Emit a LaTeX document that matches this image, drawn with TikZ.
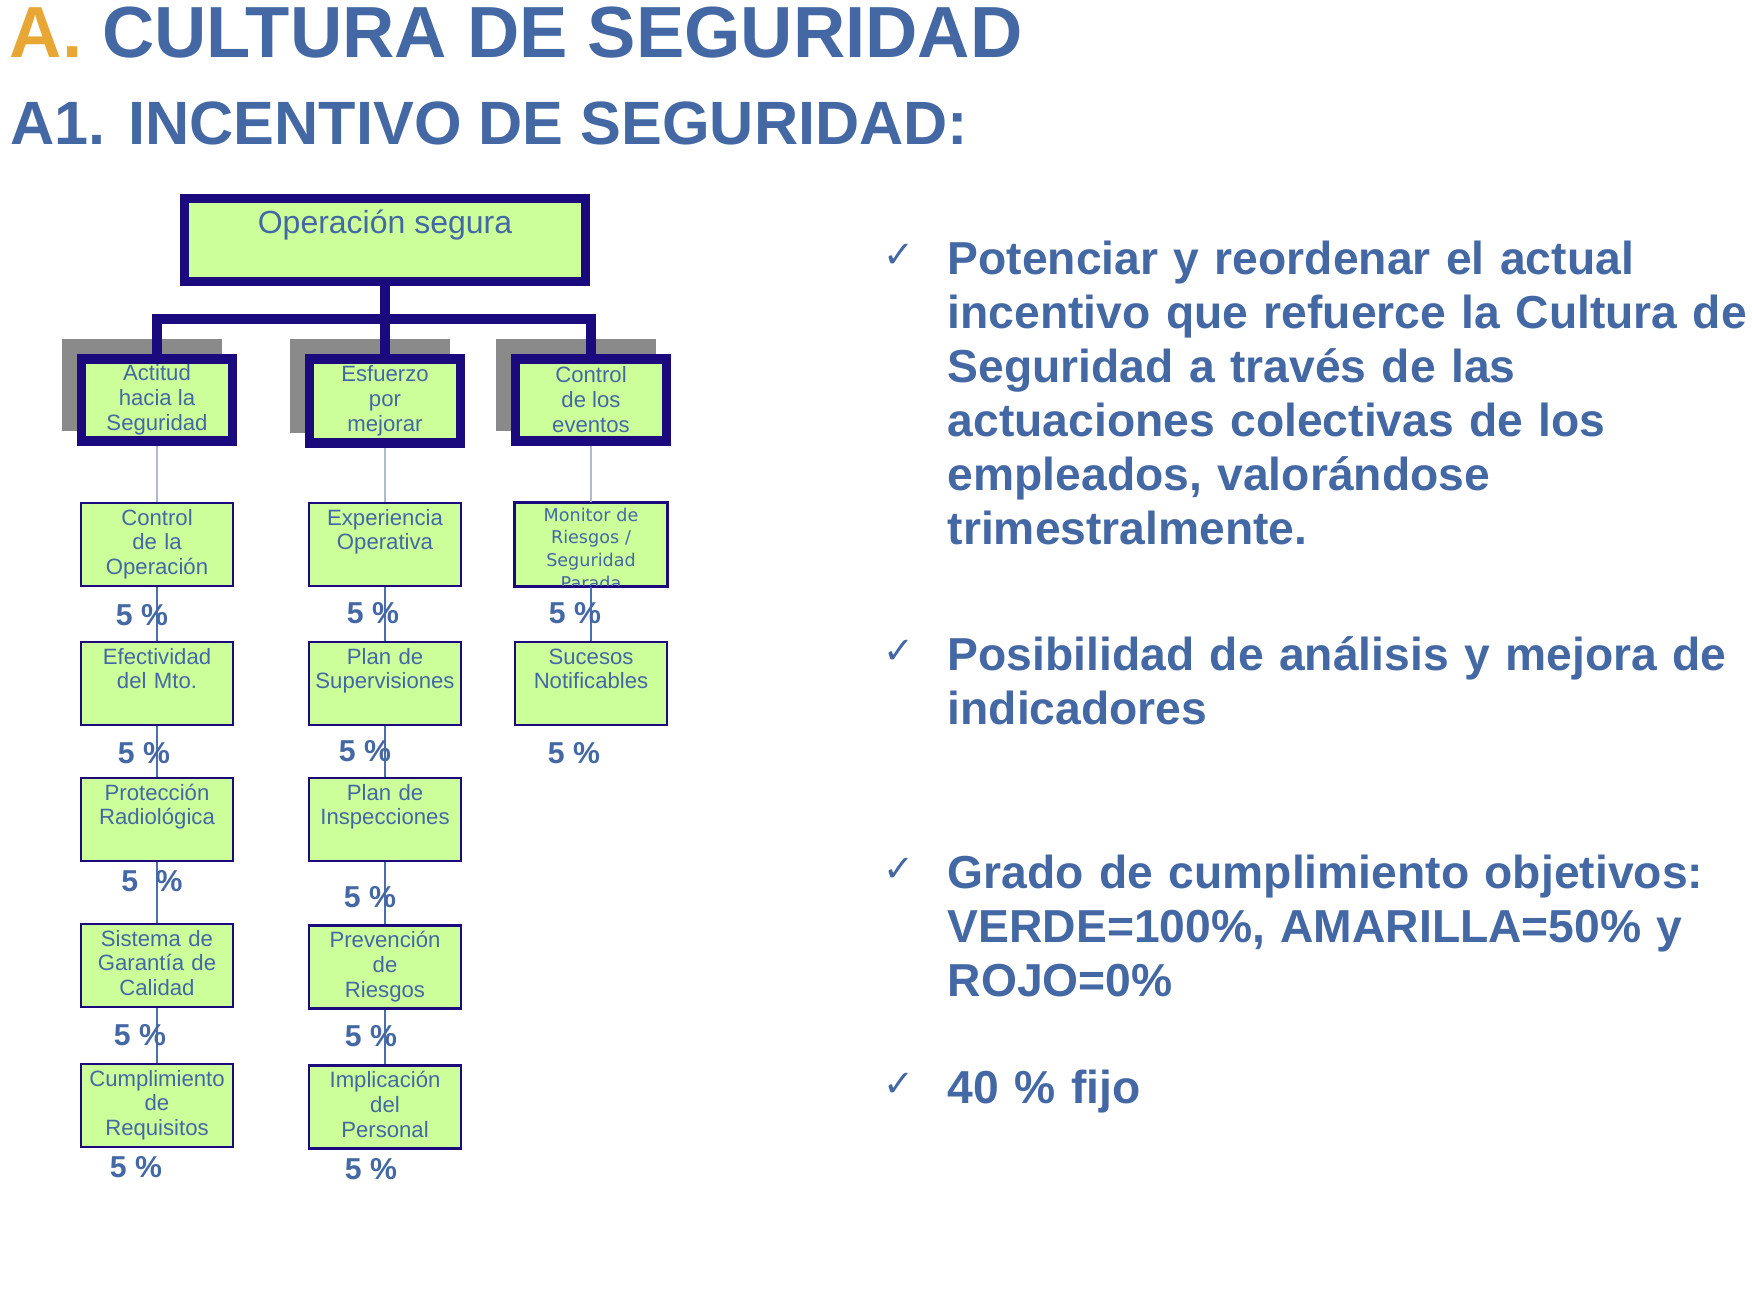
\documentclass[tikz,border=0pt]{standalone}
\usepackage{fontspec}
\setmainfont{Liberation Sans}
\newfontfamily\dejavu{DejaVu Sans}
\usetikzlibrary{backgrounds}
\definecolor{titleblue}{HTML}{4468A4}
\definecolor{titleorange}{HTML}{E8A735}
\definecolor{boxnavy}{HTML}{1A0A7E}
\definecolor{boxgreen}{HTML}{CCFF99}
\definecolor{shadowgray}{HTML}{8A8A8A}
\definecolor{linkgray}{HTML}{B0B9CE}
\definecolor{linkblue}{HTML}{4A6FAE}

\begin{document}
\begin{tikzpicture}[x=0.01cm,y=-0.01cm,
        heavy/.style={draw=boxnavy,line width=2.6pt},
        topbox/.style={heavy,fill=boxgreen,inner sep=0pt,minimum width=4cm,
                       text height=0.35cm,text depth=0.48cm,text=titleblue,
                       font=\fontsize{9.1}{11}\selectfont},
        groupbox/.style={draw=boxnavy,line width=2.8pt,fill=boxgreen,inner sep=0pt,
                         minimum width=1.51cm,minimum height=0.82cm,align=center,
                         text=titleblue,font=\fontsize{6.3}{7.1}\selectfont},
        cell/.style={draw=boxnavy,line width=0.6pt,fill=boxgreen,inner sep=0pt,
                     text width=1.52cm,align=center,text height=0.22cm,text depth=0.61cm,
                     text=titleblue,font=\fontsize{6.3}{7.1}\selectfont},
        pct/.style={inner sep=0pt,text=titleblue,font=\bfseries\fontsize{8.6}{10}\selectfont},
        bullet/.style={anchor=base west,inner sep=0pt,text width=8.3cm,align=left,
                       text=titleblue,font=\bfseries\fontsize{13.15}{15.4}\selectfont},
        tick/.style={anchor=base west,inner sep=0pt,text=titleblue,
                     font=\dejavu\fontsize{10.5}{12}\selectfont},
        lightlink/.style={draw=linkgray,line width=0.7pt},
        thinlink/.style={draw=linkblue,line width=0.5pt}]
      \useasboundingbox (0,0) rectangle (1752,1296);

      % titles
      \node[anchor=base west,inner sep=0pt,text=titleblue,
            font=\bfseries\fontsize{20.6}{24}\selectfont] (title) at (9,57)
            {\textcolor{titleorange}{A.} CULTURA DE SEGURIDAD};
      \node[anchor=base west,inner sep=0pt,text=titleblue,
            font=\bfseries\fontsize{17.4}{21}\selectfont] (subtitle) at (10,144)
            {A1. INCENTIVO DE SEGURIDAD:};

      % tree
      \node[topbox] (op) at (385,240) {Operación segura};
      \node[groupbox] (att) at (157,400) {Actitud\\hacia la\\Seguridad};
      \node[groupbox,minimum height=0.84cm] (esf) at (385,401) {Esfuerzo\\por\\mejorar};
      \node[groupbox] (ctl) at (591,400) {Control\\de los\\eventos};
      \begin{scope}[on background layer]
        \fill[shadowgray] ([shift={(-15,-15)}]att.south west) rectangle ([shift={(-15,-15)}]att.north east);
        \fill[shadowgray] ([shift={(-15,-15)}]esf.south west) rectangle ([shift={(-15,-15)}]esf.north east);
        \fill[shadowgray] ([shift={(-15,-15)}]ctl.south west) rectangle ([shift={(-15,-15)}]ctl.north east);
      \end{scope}
      \coordinate (bar) at (385,319);
      \draw[heavy] (op.south) -- (bar);
      \draw[heavy] (att.north) |- (bar) -| (ctl.north);
      \draw[heavy] (esf.north) -- (bar);

      \node[cell] (c11) at (157,544.5)  {Control\\de la\\Operación};
      \node[cell] (c12) at (157,683.5)  {Efectividad\\del Mto.};
      \node[cell] (c13) at (157,819.5)  {Protección\\Radiológica};
      \node[cell] (c14) at (157,965.5)  {Sistema de\\Garantía de\\Calidad};
      \node[cell] (c15) at (157,1105.5) {Cumplimiento\\de\\Requisitos};
      \node[cell] (c21) at (385,544.5)  {Experiencia\\Operativa};
      \node[cell] (c22) at (385,683.5)  {Plan de\\Supervisiones};
      \node[cell] (c23) at (385,819.5)  {Plan de\\Inspecciones};
      \node[cell] (c24) at (385,967)    {Prevención\\de\\Riesgos};
      \node[cell] (c25) at (385,1107)   {Implicación\\del\\Personal};
      \node[cell] (c31) at (591,544.5)  {};
      \begin{scope}
        \clip (c31.south west) rectangle (c31.north east);
        \node[cell,draw=none,fill=none,text height=0.18cm,text depth=0.65cm,
              font=\dejavu\fontsize{5}{6.5}\selectfont] (c31txt) at (c31)
              {Monitor de\\Riesgos /\\Seguridad\\Parada};
      \end{scope}
      \draw[boxnavy,line width=0.6pt] (c31.south west) rectangle (c31.north east);
      \node[cell] (c32) at (591,683.5)  {Sucesos\\Notificables};

      \draw[lightlink] (att.south) -- (c11.north);
      \draw[lightlink] (esf.south) -- (c21.north);
      \draw[lightlink] (ctl.south) -- (c31.north);
      \draw[thinlink] (c11.south) -- (c12.north);
      \draw[thinlink] (c12.south) -- (c13.north);
      \draw[thinlink] (c13.south) -- (c14.north);
      \draw[thinlink] (c14.south) -- (c15.north);
      \draw[thinlink] (c21.south) -- (c22.north);
      \draw[thinlink] (c22.south) -- (c23.north);
      \draw[thinlink] (c23.south) -- (c24.north);
      \draw[thinlink] (c24.south) -- (c25.north);
      \draw[thinlink] (c31.south) -- (c32.north);

      % weights
      \node[pct] (p11) at (142,615)  {5 \%};
      \node[pct] (p12) at (144,753)  {5 \%};
      \node[pct] (p13) at (152,881)  {5\hspace{0.09cm} \%};
      \node[pct] (p14) at (140,1035) {5 \%};
      \node[pct] (p15) at (136,1167) {5 \%};
      \node[pct] (p21) at (373,613)  {5 \%};
      \node[pct] (p22) at (365,751)  {5 \%};
      \node[pct] (p23) at (370,897)  {5 \%};
      \node[pct] (p24) at (371,1036) {5 \%};
      \node[pct] (p25) at (371,1169) {5 \%};
      \node[pct] (p31) at (575,613)  {5 \%};
      \node[pct] (p32) at (574,753)  {5 \%};

      % right column
      \node[tick] (chk1) at (883,267) {✓};
      \node[bullet] (pt1) at (947,274) {Potenciar y reordenar el actual\\incentivo que refuerce la Cultura de\\Seguridad a través de las\\actuaciones colectivas de los\\empleados, valorándose\\trimestralmente.};
      \node[tick] (chk2) at (883,663) {✓};
      \node[bullet] (pt2) at (947,670) {Posibilidad de análisis y mejora de\\indicadores};
      \node[tick] (chk3) at (883,881) {✓};
      \node[bullet] (pt3) at (947,888) {Grado de cumplimiento objetivos:\\VERDE=100\%, AMARILLA=50\% y\\ROJO=0\%};
      \node[tick] (chk4) at (883,1096) {✓};
      \node[bullet] (pt4) at (947,1103) {40 \% fijo};
    \end{tikzpicture}
\end{document}
